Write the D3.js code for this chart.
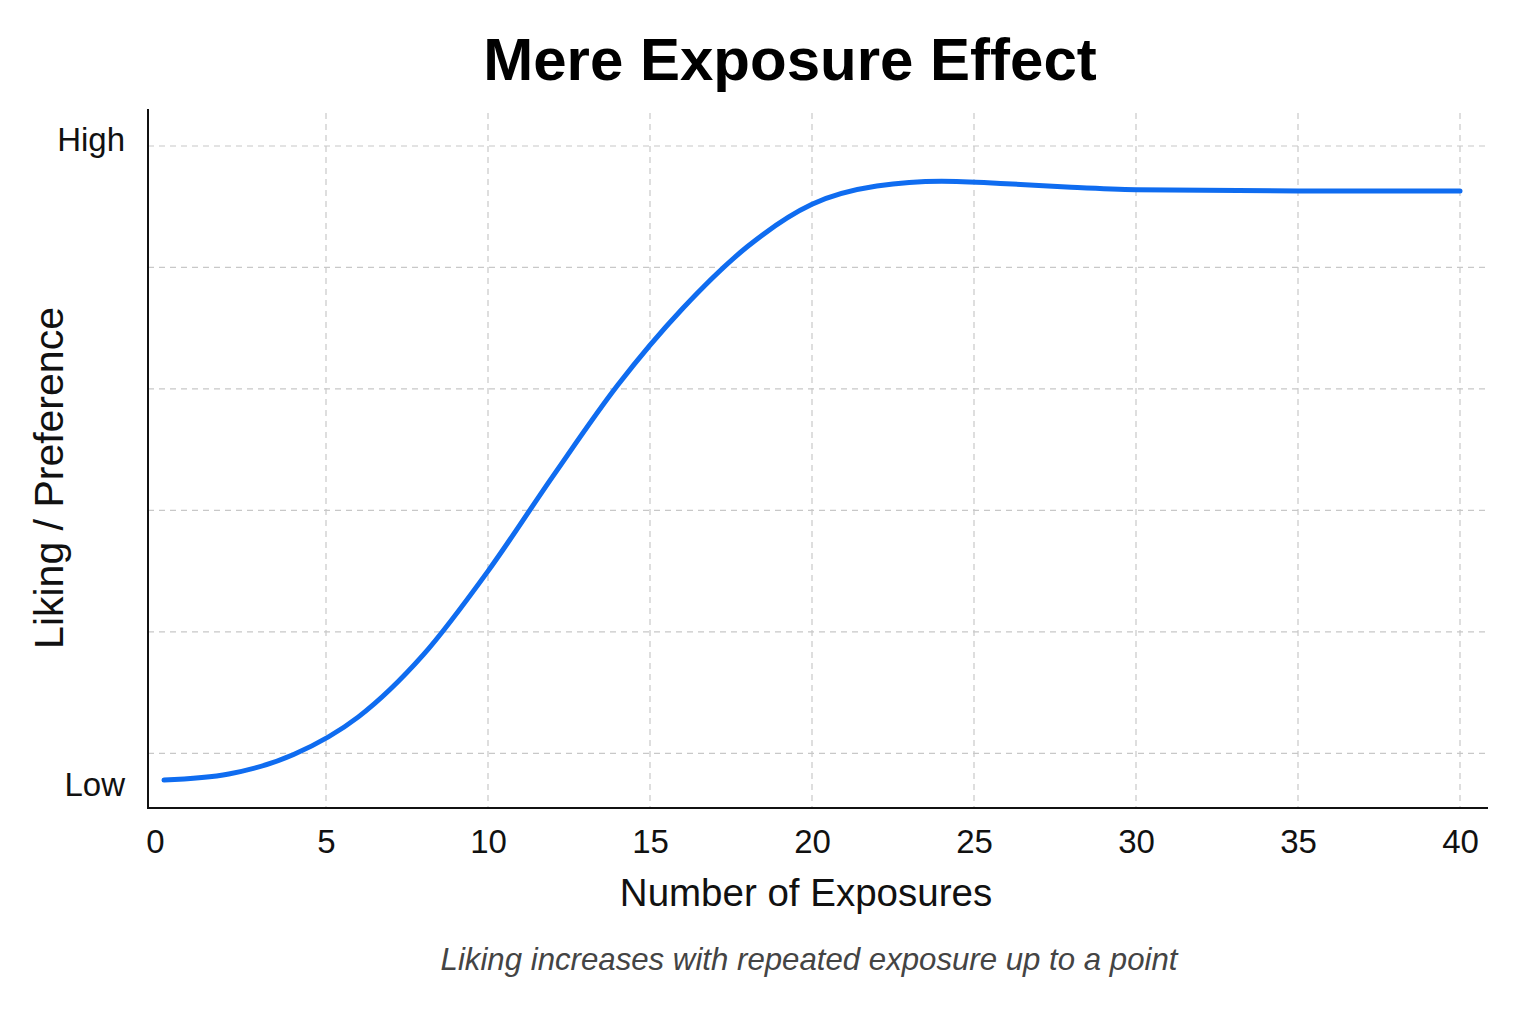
<!DOCTYPE html>
<html>
<head>
<meta charset="utf-8">
<script src="https://cdn.jsdelivr.net/npm/d3@7"></script>
<style>
  body { margin: 0; background: #fff; }
  text { font-family: "Liberation Sans", Arial, sans-serif; fill: #111; }
</style>
</head>
<body>
<div id="chart"></div>
<script>
// ******* data *******
var exposures = [0, 2, 4, 6, 8, 10, 12, 14, 16, 18, 20, 22, 24, 26, 28, 30, 35, 40];
var liking    = [0.78, 0.83, 0.99, 1.30, 1.81, 2.50, 3.28, 4.03, 4.66, 5.17, 5.52, 5.67, 5.71, 5.69, 5.66, 5.64, 5.63, 5.63];
var xTicks = [0, 5, 10, 15, 20, 25, 30, 35, 40];
var yGrid = [1, 2, 3, 4, 5, 6];
var yTickValues = [0.74, 6.05];
var yTickLabels = ["Low", "High"];

// ******* setup *******
var w = 1536, h = 1024;
var svg = d3.select("#chart").append("svg").attr("width", w).attr("height", h);

var plotLeft = 148, plotRight = 1488, plotTop = 109, plotBottom = 808;
var x = d3.scaleLinear().domain([5, 40]).range([326, 1460]);
var y = d3.scaleLinear().domain([1, 6]).range([753.3, 146]);

// ******* grid *******
svg.append("g").selectAll("line").data(xTicks.slice(1)).enter().append("line")
  .attr("x1", d => x(d)).attr("x2", d => x(d))
  .attr("y1", 113).attr("y2", plotBottom)
  .attr("stroke", "#c8c8c8").attr("stroke-width", 1.2).attr("stroke-dasharray", "6,5");

svg.append("g").selectAll("line").data(yGrid).enter().append("line")
  .attr("x1", plotLeft).attr("x2", plotRight)
  .attr("y1", d => y(d)).attr("y2", d => y(d))
  .attr("stroke", "#c8c8c8").attr("stroke-width", 1.2).attr("stroke-dasharray", "6,5");

// ******* axes *******
var xAxis = svg.append("g").attr("transform", `translate(0,${plotBottom})`)
  .call(d3.axisBottom(x).tickValues(xTicks).tickSize(0).tickPadding(22));
xAxis.select(".domain").remove();
xAxis.selectAll("text").attr("font-size", 33).attr("fill", "#111")
  .style("font-family", "Liberation Sans, Arial, sans-serif")
  .attr("dx", d => d === 0 ? -9 : 0);

var yAxis = svg.append("g").attr("transform", `translate(${plotLeft},0)`)
  .call(d3.axisLeft(y).tickValues(yTickValues).tickSize(0).tickPadding(23)
    .tickFormat((d, i) => yTickLabels[i]));
yAxis.select(".domain").remove();
yAxis.selectAll("text").attr("font-size", 33).attr("fill", "#111")
  .style("font-family", "Liberation Sans, Arial, sans-serif");

svg.append("line").attr("x1", plotLeft).attr("x2", plotLeft).attr("y1", plotTop).attr("y2", plotBottom)
  .attr("stroke", "#111").attr("stroke-width", 2);
svg.append("line").attr("x1", plotLeft - 1).attr("x2", plotRight).attr("y1", plotBottom).attr("y2", plotBottom)
  .attr("stroke", "#111").attr("stroke-width", 2);

// ******* curve *******
var pts = exposures.map((d, i) => [d, liking[i]]);
var line = d3.line().x(d => x(d[0])).y(d => y(d[1])).curve(d3.curveMonotoneX);
svg.append("path").attr("d", line(pts))
  .attr("fill", "none").attr("stroke", "#0f6cf0").attr("stroke-width", 5)
  .attr("stroke-linecap", "round");

// ******* titles *******
svg.append("text").attr("x", 790).attr("y", 80).attr("text-anchor", "middle")
  .attr("font-size", 60).attr("font-weight", "bold").style("fill", "#000").text("Mere Exposure Effect");

svg.append("text").attr("x", 806).attr("y", 906).attr("text-anchor", "middle")
  .attr("font-size", 38.5).text("Number of Exposures");

svg.append("text").attr("transform", "translate(63,478) rotate(-90)").attr("text-anchor", "middle")
  .attr("font-size", 41).text("Liking / Preference");

svg.append("text").attr("x", 809).attr("y", 970).attr("text-anchor", "middle")
  .attr("font-size", 31.2).attr("font-style", "italic").style("fill", "#444")
  .text("Liking increases with repeated exposure up to a point");
</script>
</body>
</html>
